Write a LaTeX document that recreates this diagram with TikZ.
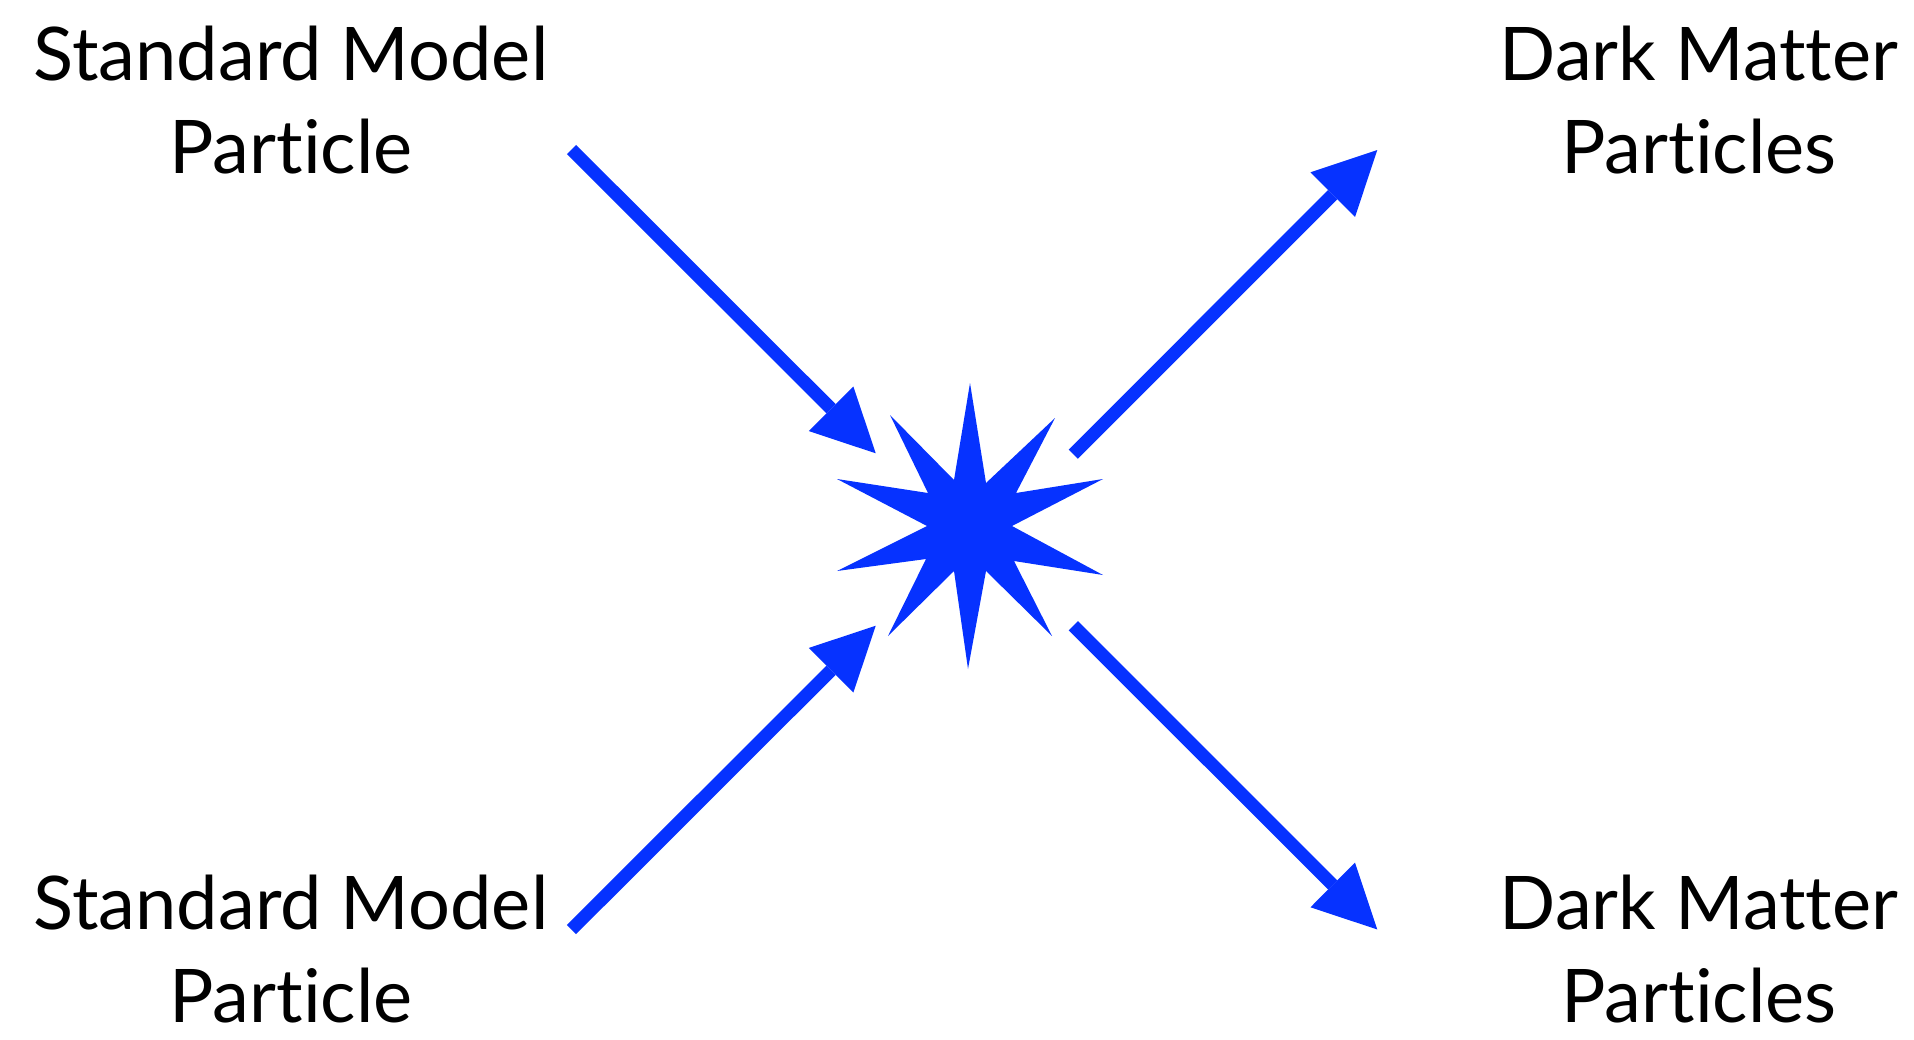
\documentclass[tikz,border=0pt]{standalone}
\usepackage{fontspec}
\setmainfont{Lato}[Ligatures={NoCommon,NoRequired,NoContextual}]
\usetikzlibrary{arrows.meta}
\definecolor{burstblue}{RGB}{6,50,255}
\tikzset{
  lbl/.style={font=\fontsize{74}{93}\selectfont, align=center, inner sep=0pt, text depth=0pt, text=black},
  arr/.style={draw=burstblue, line width=13pt, -{Triangle[length=63pt,width=63pt,line width=0pt]}},
}
\begin{document}
\begin{tikzpicture}[x=1pt,y=-1pt]
\useasboundingbox[fill=white] (0,0) rectangle (1914,1039);
% labels (anchor = baseline of last line)
\node[lbl, anchor=base] (smtop) at (291,173) {Standard Model\\Particle};
\node[lbl, anchor=base] (smbot) at (291,1022) {Standard Model\\Particle};
\node[lbl, anchor=base] (dmtop) at (1699,173) {Dark Matter\\Particles};
\node[lbl, anchor=base] (dmbot) at (1699,1022) {Dark Matter\\Particles};
% arrow ends
\coordinate (inTLs) at (571.5,149.5);
\coordinate (inTLe) at (875.7,453.3);
\coordinate (inBLs) at (571.5,929.5);
\coordinate (inBLe) at (875.7,625.7);
\coordinate (outTRs) at (1073.3,454.2);
\coordinate (outTRe) at (1377.3,150);
\coordinate (outBRs) at (1073.3,625.7);
\coordinate (outBRe) at (1377.3,929.5);
% burst
\coordinate (burst) at (970,526);
\fill[burstblue] (970,383) -- (986,483) -- (1055,418) -- (1016,493) -- (1103,479)
  -- (1012,526) -- (1103,575) -- (1014,561) -- (1052,636) -- (986,571)
  -- (968,669) -- (954,571) -- (888,636) -- (926,559) -- (837,571)
  -- (927,526) -- (837,479) -- (928,493) -- (890,415) -- (954,480) -- cycle;
% arrows
\draw[arr] (inTLs) -- (inTLe);
\draw[arr] (inBLs) -- (inBLe);
\draw[arr] (outTRs) -- (outTRe);
\draw[arr] (outBRs) -- (outBRe);
\end{tikzpicture}
\end{document}
